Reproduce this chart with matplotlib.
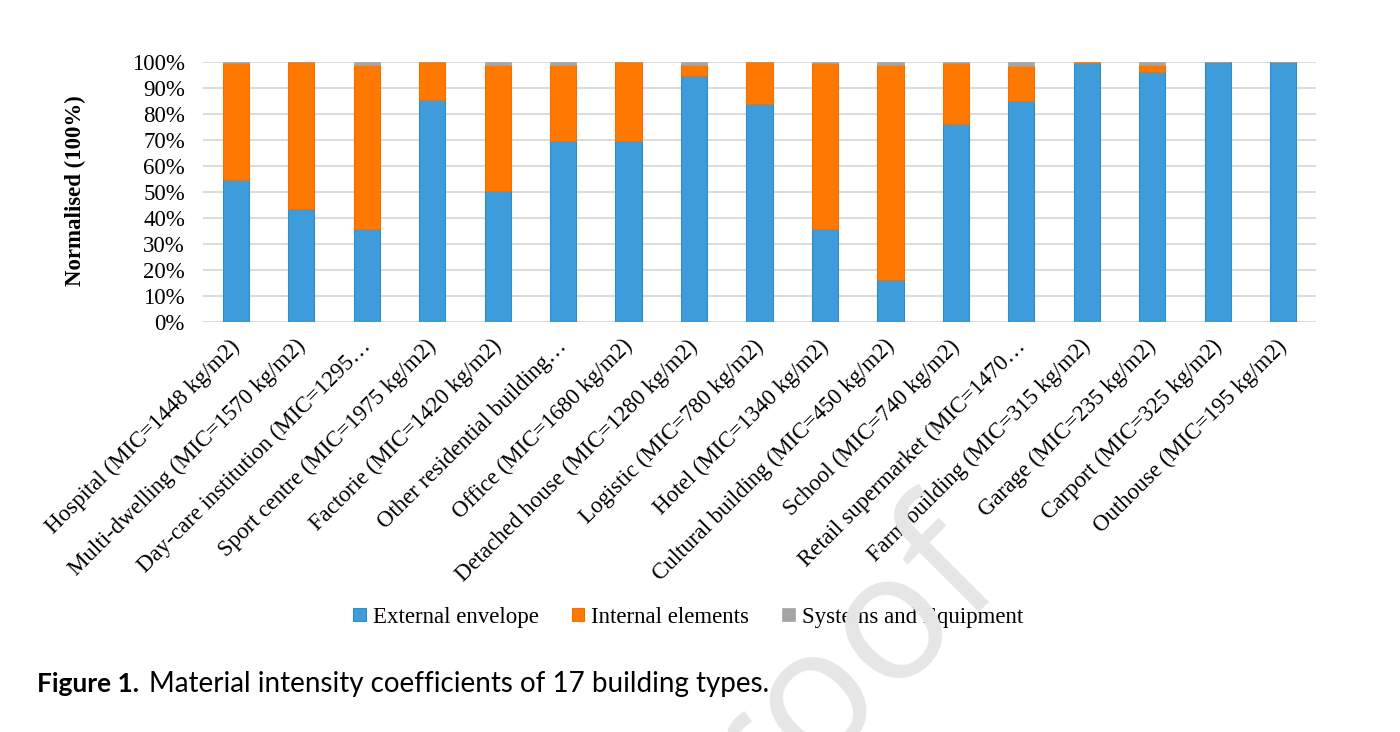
import numpy as np
import matplotlib
matplotlib.use("Agg")
import matplotlib.pyplot as plt
import matplotlib.transforms as mtransforms
from matplotlib.ticker import FuncFormatter, MultipleLocator

# building types with their material intensity coefficient
categories = [
    'Hospital (MIC=1448 kg/m2)',
    'Multi-dwelling (MIC=1570 kg/m2)',
    'Day-care institution (MIC=1295\u2026',
    'Sport centre (MIC=1975 kg/m2)',
    'Factorie (MIC=1420 kg/m2)',
    'Other residential building\u2026',
    'Office (MIC=1680 kg/m2)',
    'Detached house (MIC=1280 kg/m2)',
    'Logistic (MIC=780 kg/m2)',
    'Hotel (MIC=1340 kg/m2)',
    'Cultural building (MIC=450 kg/m2)',
    'School (MIC=740 kg/m2)',
    'Retail supermarket (MIC=1470\u2026',
    'Farm building (MIC=315 kg/m2)',
    'Garage (MIC=235 kg/m2)',
    'Carport (MIC=325 kg/m2)',
    'Outhouse (MIC=195 kg/m2)',
]

# shares in percent
external = [54.7, 43.4, 35.6, 85.5, 50.3, 69.6, 69.6, 94.6, 84.0,
            35.6, 16.0, 76.0, 85.2, 99.7, 96.1, 100.0, 100.0]
internal = [44.9, 56.6, 63.5, 14.5, 48.5, 29.5, 30.4, 4.5, 16.0,
            64.1, 83.0, 23.6, 13.3, 0.3, 2.9, 0.0, 0.0]
systems = [0.4, 0.0, 0.9, 0.0, 1.2, 0.9, 0.0, 0.9, 0.0,
           0.3, 1.0, 0.4, 1.5, 0.0, 1.0, 0.0, 0.0]

series_names = ['External envelope', 'Internal elements', 'Systems and Equipment']

cblue = '#3f9cda'
corange = '#ff7802'
cgrey = '#a5a5a5'

serif = ['Liberation Serif', 'DejaVu Serif']
fs = 16.5

fig = plt.figure(figsize=(14, 7.32), dpi=100)
ax = fig.add_axes([0.145, 0.5605, 0.795, 0.3545])

x = np.arange(len(categories))
w = 0.4
ext = np.array(external)
inn = np.array(internal)
sysq = np.array(systems)

ax.bar(x, ext, w, color=cblue, edgecolor='#2f8bcb', linewidth=0.8, label=series_names[0])
ax.bar(x, inn, w, bottom=ext, color=corange, edgecolor='#f07000', linewidth=0.8, label=series_names[1])
ax.bar(x, sysq, w, bottom=ext + inn, color=cgrey, edgecolor=cgrey, linewidth=0.5, label=series_names[2])

ax.set_xlim(-0.5, len(categories) - 0.5)
ax.set_ylim(0, 100)
ax.yaxis.set_major_locator(MultipleLocator(10))
ax.yaxis.set_major_formatter(FuncFormatter(lambda v, p: '%d%%' % round(v)))
ax.grid(axis='y', color='#d9d9d9', linewidth=1.3)
ax.set_axisbelow(True)
for s in ax.spines.values():
    s.set_visible(False)

ax.set_xticks(x)
ax.set_xticklabels(categories, rotation=45, ha='right', family=serif, fontsize=fs)
ax.tick_params(axis='x', length=0, pad=10)
ax.tick_params(axis='y', length=0, pad=13)
# nudge rotated labels a little to the right, like the original
shift = mtransforms.ScaledTranslation(6/72., 0, fig.dpi_scale_trans)
for lab in ax.get_xticklabels():
    lab.set_transform(lab.get_transform() + shift)
for lab in ax.get_yticklabels():
    lab.set_family(serif)
    lab.set_fontsize(fs)

fig.text(0.054, 0.74, 'Normalised (100%)', rotation=90, ha='center', va='center',
         family=serif, fontsize=fs, fontweight='bold')

leg = fig.legend(loc='center', bbox_to_anchor=(0.4915, 0.157), ncol=3, frameon=False,
                 handlelength=0.55, handleheight=0.55, handletextpad=0.3,
                 columnspacing=1.45, prop={'family': serif, 'size': fs})

# caption
fig.text(0.0264, 0.0546, 'Figure 1.', family='Lato', fontsize=19, fontweight='bold',
         ha='left', va='baseline')
fig.text(0.1064, 0.0546, 'Material intensity coefficients of 17 building types.',
         family='Lato', fontsize=20, ha='left', va='baseline')

# watermark
fig.text(0.717, 0.219, 'proof', family='Open Sans', fontsize=128, color='#e6e6e6',
         rotation=45, rotation_mode='anchor', ha='right', va='baseline', zorder=10)

fig.savefig('out.png', dpi=100)
